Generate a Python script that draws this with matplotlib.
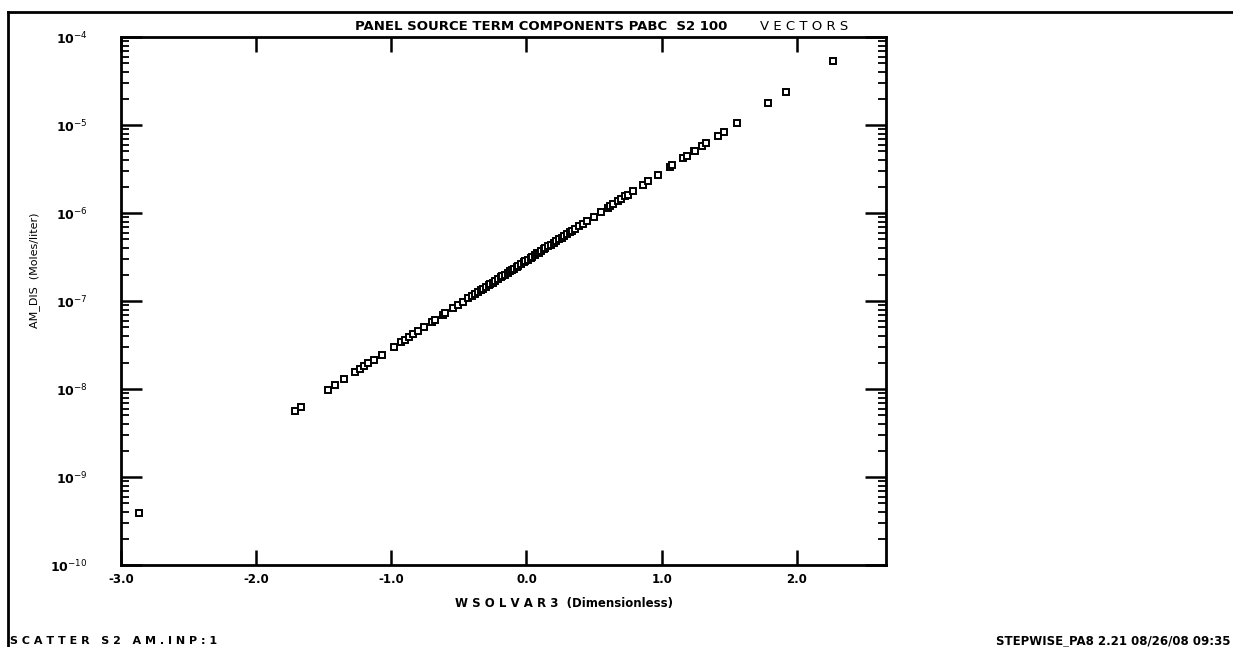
import matplotlib
matplotlib.use("Agg")
from matplotlib import pyplot as plt
from matplotlib import ticker
from matplotlib.lines import Line2D

# W SOLVAR 3 values (sorted)
wsolvar3 = [
    -2.87, -1.71, -1.67, -1.47, -1.42, -1.35, -1.27, -1.23, -1.20, -1.17,
    -1.13, -1.07, -0.98, -0.93, -0.90, -0.87, -0.84, -0.80, -0.76, -0.70,
    -0.68, -0.62, -0.60, -0.54, -0.51, -0.47, -0.43,
    -0.40, -0.38, -0.36, -0.34, -0.32, -0.30, -0.28, -0.27, -0.25, -0.23,
    -0.21, -0.19, -0.18, -0.16, -0.14, -0.12, -0.11, -0.09, -0.07, -0.06,
    -0.04, -0.02, -0.01, 0.01, 0.03, 0.04, 0.06, 0.08, 0.09, 0.11,
    0.13, 0.14, 0.16, 0.18, 0.20, 0.22, 0.24, 0.26, 0.28, 0.30,
    0.32, 0.34, 0.36, 0.39, 0.42, 0.45,
    0.50, 0.55, 0.60, 0.62, 0.64, 0.68, 0.70, 0.73, 0.75, 0.79,
    0.86, 0.90, 0.97, 1.06, 1.08, 1.16, 1.19, 1.24, 1.25, 1.30,
    1.33, 1.42, 1.46, 1.56, 1.79, 1.92, 2.27,
]

# AM_DIS (Moles/liter), same order
am_dis = [
    3.89e-10, 5.62e-9, 6.17e-9, 9.77e-9, 1.10e-8, 1.29e-8, 1.55e-8, 1.70e-8, 1.82e-8, 1.95e-8,
    2.14e-8, 2.45e-8, 3.02e-8, 3.39e-8, 3.63e-8, 3.89e-8, 4.17e-8, 4.57e-8, 5.01e-8, 5.75e-8,
    6.03e-8, 6.92e-8, 7.24e-8, 8.32e-8, 8.91e-8, 9.77e-8, 1.07e-7,
    1.15e-7, 1.20e-7, 1.26e-7, 1.32e-7, 1.38e-7, 1.45e-7, 1.51e-7, 1.55e-7, 1.62e-7, 1.70e-7,
    1.78e-7, 1.86e-7, 1.91e-7, 2.00e-7, 2.09e-7, 2.19e-7, 2.24e-7, 2.34e-7, 2.45e-7, 2.51e-7,
    2.63e-7, 2.75e-7, 2.82e-7, 2.95e-7, 3.09e-7, 3.16e-7, 3.31e-7, 3.47e-7, 3.55e-7, 3.72e-7,
    3.89e-7, 3.98e-7, 4.17e-7, 4.37e-7, 4.57e-7, 4.79e-7, 5.01e-7, 5.25e-7, 5.50e-7, 5.75e-7,
    6.03e-7, 6.31e-7, 6.61e-7, 7.08e-7, 7.59e-7, 8.13e-7,
    9.12e-7, 1.02e-6, 1.15e-6, 1.20e-6, 1.26e-6, 1.38e-6, 1.45e-6, 1.55e-6, 1.62e-6, 1.78e-6,
    2.09e-6, 2.29e-6, 2.69e-6, 3.31e-6, 3.47e-6, 4.17e-6, 4.47e-6, 5.01e-6, 5.13e-6, 5.75e-6,
    6.17e-6, 7.59e-6, 8.32e-6, 1.05e-5, 1.78e-5, 2.40e-5, 5.37e-5,
]

x_ticks = [-3.0, -2.0, -1.0, 0.0, 1.0, 2.0]
y_exps = [-10, -9, -8, -7, -6, -5, -4]

W, H = 1233, 647
fig = plt.figure(figsize=(W / 100, H / 100), dpi=100)
ax = fig.add_axes([121 / W, 1 - 565 / H, (886 - 121) / W, (565 - 37) / H])

ax.plot(wsolvar3, am_dis, linestyle="none", marker="s", markersize=4.2,
        markerfacecolor="white", markeredgecolor="black", markeredgewidth=1.4)

ax.set_yscale("log")
ax.set_xlim(-3.0, 2.66)
ax.set_ylim(1e-10, 1e-4)

bold = dict(family="DejaVu Sans", weight="bold")

ax.set_xticks(x_ticks)
ax.set_xticklabels([f"{v:.1f}" for v in x_ticks], fontsize=8.5, **bold)
ax.set_yticks([10.0 ** e for e in y_exps])
ax.set_yticklabels([f"10$^{{{e}}}$" for e in y_exps], fontsize=9, **bold)
ax.yaxis.set_minor_locator(ticker.LogLocator(base=10, subs=range(2, 10), numticks=20))
ax.yaxis.set_minor_formatter(ticker.NullFormatter())

ax.tick_params(axis="both", which="major", direction="in", top=True, right=True,
               length=11, width=1.8, color="black")
ax.tick_params(axis="y", which="major", length=15, pad=24)
ax.tick_params(axis="x", which="major", pad=6)
ax.tick_params(axis="y", which="minor", direction="in", right=True,
               length=6, width=1.3)
for sp in ax.spines.values():
    sp.set_linewidth(2.0)

# axis labels
fig.text(35 / W, 1 - 270 / H, "AM_DIS  (Moles/liter)", rotation=90,
         ha="center", va="center", fontsize=8, family="Liberation Sans Narrow")
fig.text(564 / W, 1 - 603 / H, "W S O L V A R 3  (Dimensionless)",
         ha="center", va="center", fontsize=8.5, **bold)

# title
fig.text(355 / W, 1 - 27 / H, "PANEL SOURCE TERM COMPONENTS PABC  S2 100",
         ha="left", va="center", fontsize=9.5, family="DejaVu Sans", weight="heavy")
fig.text(760 / W, 1 - 27 / H, "V E C T O R S", ha="left", va="center",
         fontsize=9.5, family="DejaVu Sans")

# footer
fig.text(10 / W, 1 - 641 / H, "S C A T T E R   S 2   A M . I N P : 1", ha="left",
         va="center", fontsize=8, family="DejaVu Sans", weight="bold")
fig.text(1230 / W, 1 - 641 / H, "STEPWISE_PA8 2.21 08/26/08 09:35", ha="right",
         va="center", fontsize=8.5, **bold)

# page frame
fig.add_artist(Line2D([8 / W, 1.0], [1 - 12 / H, 1 - 12 / H], color="black",
                      linewidth=2, transform=fig.transFigure))
fig.add_artist(Line2D([8 / W, 8 / W], [1 - 12 / H, 0.0], color="black",
                      linewidth=2, transform=fig.transFigure))

fig.savefig("out.png", dpi=100)
